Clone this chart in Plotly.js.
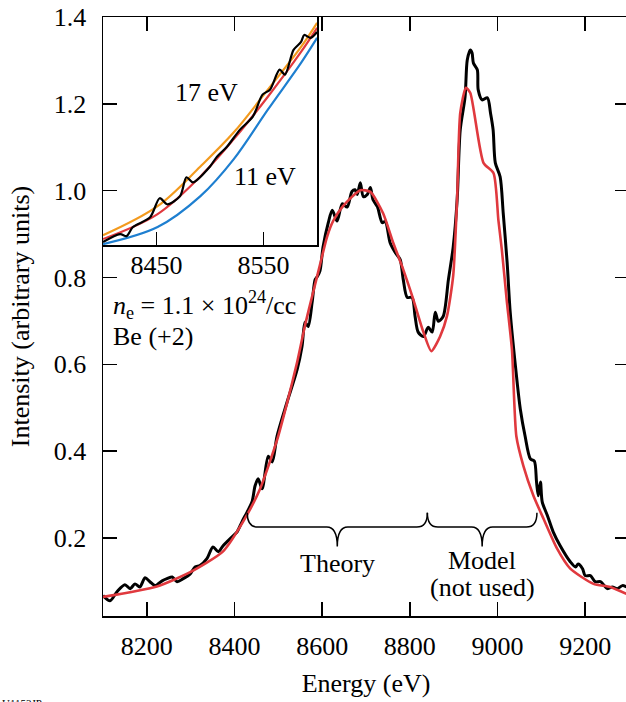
<!DOCTYPE html>
<html><head><meta charset="utf-8">
<script src="https://cdn.plot.ly/plotly-3.0.1.min.js"></script>
<style>html,body{margin:0;padding:0;overflow:hidden;background:#fff}</style>
</head><body><div id="chart" style="width:629px;height:702px"></div>
<script>
// Experimental spectrum (black)
const expEnergy = [8100,8116,8132,8150,8162,8173,8184,8196,8207,8219,8235,8246,8258,8269,8283,8299,8310,8321,8337,8351,8363,8374,8385,8397,8406,8417,8429,8440,8447,8454,8463,8477,8486,8497,8520,8543,8554,8561,8568,8577,8584,8589,8595,8602,8614,8623,8634,8646,8657,8668,8675,8680,8687,8694,8703,8710,8716,8726,8737,8744,8755,8767,8778,8785,8794,8805,8812,8819,8831,8842,8851,8858,8865,8876,8888,8899,8908,8915,8926,8931,8938,8942,8945,8954,8956,8965,8977,8984,8990,8995,9006,9013,9022,9029,9041,9052,9063,9075,9084,9089,9093,9098,9102,9114,9127,9143,9166,9178,9184,9194,9200,9212,9223,9235,9251,9262,9273,9285,9294];
const expIntensity = [0.067,0.055,0.076,0.092,0.083,0.094,0.087,0.108,0.099,0.090,0.101,0.106,0.110,0.099,0.106,0.117,0.133,0.136,0.152,0.179,0.168,0.182,0.193,0.205,0.214,0.237,0.260,0.283,0.320,0.336,0.313,0.388,0.375,0.434,0.513,0.588,0.641,0.697,0.687,0.742,0.795,0.802,0.815,0.870,0.926,0.955,0.930,0.970,0.962,0.998,1.002,0.991,1.018,0.986,0.991,1.007,0.979,0.963,0.926,0.929,0.880,0.857,0.841,0.795,0.754,0.754,0.710,0.674,0.664,0.685,0.674,0.720,0.699,0.710,0.795,0.871,0.980,1.140,1.216,1.301,1.324,1.317,1.294,1.278,1.232,1.209,1.214,1.179,1.140,1.064,1.032,0.949,0.834,0.720,0.595,0.497,0.434,0.382,0.377,0.329,0.297,0.329,0.283,0.251,0.214,0.182,0.145,0.133,0.140,0.129,0.113,0.113,0.099,0.099,0.083,0.087,0.083,0.090,0.087];
// Theory fit (red)
const theoryEnergy = [8100,8223,8299,8374,8420,8458,8497,8520,8543,8561,8578,8595,8611,8625,8648,8687,8710,8739,8762,8785,8808,8831,8849,8869,8885,8899,8908,8915,8928,8938,8968,8991,9002,9010,9021,9033,9043,9059,9082,9105,9136,9166,9219,9257,9294];
const theoryIntensity = [0.064,0.088,0.121,0.169,0.238,0.312,0.425,0.511,0.605,0.690,0.760,0.829,0.893,0.930,0.965,1.001,0.997,0.948,0.880,0.818,0.749,0.674,0.630,0.664,0.712,0.805,0.986,1.179,1.237,1.225,1.064,1.040,0.932,0.863,0.748,0.633,0.434,0.366,0.297,0.244,0.175,0.129,0.094,0.087,0.071];
// Inset (arbitrary units)
const insetEnergy = [8400,8451,8491,8522,8554,8585,8600];
const inset17eV = [0.039,0.167,0.342,0.491,0.680,0.868,0.974];
const inset11eV = [0.000,0.075,0.211,0.373,0.592,0.798,0.908];
const insetFit = [0.022,0.132,0.298,0.461,0.649,0.846,0.952];
const insetExpEnergy = [8400,8416,8422,8428,8444,8453,8460,8472,8478,8484,8500,8506,8516,8528,8540,8549,8556,8565,8570,8578,8585,8588,8594,8600];
const insetExpIntensity = [0.009,0.044,0.035,0.075,0.118,0.202,0.175,0.211,0.294,0.272,0.342,0.382,0.430,0.504,0.561,0.658,0.680,0.768,0.746,0.855,0.890,0.921,0.908,0.934];
const braceRanges = [[8429, 8840], [8840, 9090]];
const braceLabels = [["Theory"], ["Model", "(not used)"]];
const xTicks = [8200, 8400, 8600, 8800, 9000, 9200];
const yTicks = [0.2, 0.4, 0.6, 0.8, 1.0, 1.2, 1.4];
const insetTicks = [8450, 8550];

const FONT = "Liberation Serif";
const FS = 26;

const traces = [
  {x: expEnergy, y: expIntensity, type: 'scatter', mode: 'lines', line: {color: '#000', width: 3, shape: 'spline', smoothing: 0.8}, xaxis: 'x', yaxis: 'y', hoverinfo: 'skip'},
  {x: theoryEnergy, y: theoryIntensity, type: 'scatter', mode: 'lines', line: {color: '#e0393e', width: 2.6, shape: 'spline', smoothing: 0.6}, xaxis: 'x', yaxis: 'y', hoverinfo: 'skip'},
  {x: insetEnergy, y: inset17eV, type: 'scatter', mode: 'lines', line: {color: '#f39a1e', width: 2.2, shape: 'spline'}, xaxis: 'x2', yaxis: 'y2'},
  {x: insetEnergy, y: inset11eV, type: 'scatter', mode: 'lines', line: {color: '#1e7fd0', width: 2.2, shape: 'spline'}, xaxis: 'x2', yaxis: 'y2'},
  {x: insetEnergy, y: insetFit, type: 'scatter', mode: 'lines', line: {color: '#e0393e', width: 2.2, shape: 'spline'}, xaxis: 'x2', yaxis: 'y2'},
  {x: insetExpEnergy, y: insetExpIntensity, type: 'scatter', mode: 'lines', line: {color: '#000', width: 2.2, shape: 'spline', smoothing: 0.8}, xaxis: 'x2', yaxis: 'y2'}
];

const yEnd = 0.258, yLine = 0.225, yTip = 0.18, d = 24;
const shapes = braceRanges.map(([x0, x1]) => {
  const xc = (x0 + x1) / 2;
  return {
    type: 'path', xref: 'x', yref: 'y', line: {color: '#000', width: 1.5},
    path: `M ${x0},${yEnd} Q ${x0},${yLine} ${x0 + d},${yLine} L ${xc - d},${yLine} Q ${xc},${yLine} ${xc},${yTip} Q ${xc},${yLine} ${xc + d},${yLine} L ${x1 - d},${yLine} Q ${x1},${yLine} ${x1},${yEnd}`
  };
});

const labelY = [[0.142], [0.149, 0.085]];
const annotations = [];
braceRanges.forEach(([x0, x1], i) => {
  braceLabels[i].forEach((t, j) => {
    annotations.push({x: (x0 + x1) / 2, y: labelY[i][j], xref: 'x', yref: 'y', text: t, showarrow: false, font: {family: FONT, size: FS, color: '#000'}, xanchor: 'center', yanchor: 'middle'});
  });
});
annotations.push(
  {x: 8118, y: 0.737, xref: 'x', yref: 'y', text: '<i>n</i><sub>e</sub> = 1.1 × 10<sup>24</sup>/cc', showarrow: false, xanchor: 'left', yanchor: 'middle', font: {family: FONT, size: FS, color: '#000'}},
  {x: 8118, y: 0.663, xref: 'x', yref: 'y', text: 'Be (+2)', showarrow: false, xanchor: 'left', yanchor: 'middle', font: {family: FONT, size: FS, color: '#000'}},
  {x: 8497, y: 0.667, xref: 'x2', yref: 'y2', text: '17 eV', showarrow: false, xanchor: 'center', yanchor: 'middle', font: {family: FONT, size: FS, color: '#000'}},
  {x: 8551, y: 0.298, xref: 'x2', yref: 'y2', text: '11 eV', showarrow: false, xanchor: 'center', yanchor: 'middle', font: {family: FONT, size: FS, color: '#000'}},
  {x: -0.196, y: -0.132, xref: 'paper', yref: 'paper', text: 'U1153JP', showarrow: false, xanchor: 'left', yanchor: 'top', font: {family: FONT, size: 11, color: '#000'}}
);

const layout = {
  width: 629, height: 702,
  margin: {l: 103, r: 0, t: 17, b: 86},
  paper_bgcolor: '#fff', plot_bgcolor: 'rgba(0,0,0,0)',
  showlegend: false,
  font: {family: FONT, size: FS, color: '#000'},
  xaxis: {
    domain: [0, 1], range: [8100, 9300], tickvals: xTicks, ticks: 'inside', ticklen: 14, tickwidth: 1.5, tickcolor: '#000',
    showline: true, linecolor: '#000', linewidth: 1.5, mirror: 'ticks', showgrid: false, zeroline: false,
    tickfont: {family: FONT, size: FS}, ticklabelstandoff: 6,
    title: {text: 'Energy (eV)', font: {family: FONT, size: FS}, standoff: 14}
  },
  yaxis: {
    domain: [0, 1], range: [0.02, 1.4], tickvals: yTicks, tickformat: '.1f', ticks: 'inside', ticklen: 14, tickwidth: 1.5, tickcolor: '#000',
    showline: true, linecolor: '#000', linewidth: 1.5, mirror: 'ticks', showgrid: false, zeroline: false,
    tickfont: {family: FONT, size: FS}, ticklabelstandoff: 10,
    title: {text: 'Intensity (arbitrary units)', font: {family: FONT, size: FS}, standoff: 16}
  },
  xaxis2: {
    domain: [0, 0.407], range: [8400, 8600], anchor: 'y2', tickvals: insetTicks, ticks: 'inside', ticklen: 13, tickwidth: 1.5, tickcolor: '#000',
    showline: true, linecolor: '#000', linewidth: 1.5, mirror: true, showgrid: false, zeroline: false,
    tickfont: {family: FONT, size: FS}, ticklabelstandoff: -4
  },
  yaxis2: {
    domain: [0.619, 1], range: [-0.005, 1], anchor: 'x2', ticks: '', showticklabels: false,
    showline: true, linecolor: '#000', linewidth: 1.5, mirror: true, showgrid: false, zeroline: false
  },
  shapes: shapes,
  annotations: annotations
};

Plotly.newPlot('chart', traces, layout, {staticPlot: true, displayModeBar: false});
</script></body></html>
